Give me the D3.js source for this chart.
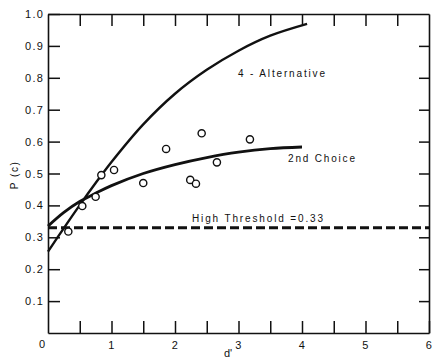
<!DOCTYPE html>
<html><head><meta charset="utf-8">
<script src="https://cdn.jsdelivr.net/npm/d3@7"></script>
<style>
body{margin:0;background:#fff}
svg text{font-family:"Liberation Sans",Arial,sans-serif;fill:#111}
</style>
</head><body>
<svg id="c" width="435" height="361"></svg>
<script>
// ---- data ----
const xTickValues = [0.5,1,1.5,2,2.5,3,3.5,4,4.5,5,5.5];
const xTickLabels = {1:"1",2:"2",3:"3",4:"4",5:"5",6:"6"};
const yTickValues = [0.1,0.2,0.3,0.4,0.5,0.6,0.7,0.8,0.9,1.0];
const yTickLabels = ["0.1","0.2","0.3","0.4","0.5","0.6","0.7","0.8","0.9","1.0"];
const alt4D = [0,0.25,0.5,0.75,1.0,1.5,2.0,2.5,3.0,3.5,4.08];
const alt4P = [0.255,0.329,0.401,0.470,0.536,0.654,0.750,0.825,0.885,0.932,0.969];
const choice2D = [0,0.25,0.5,0.75,1.0,1.5,2.0,2.5,3.0,3.5,4.0];
const choice2P = [0.335,0.378,0.412,0.438,0.462,0.50,0.528,0.55,0.567,0.578,0.583];
const obsD = [0.32,0.54,0.75,0.84,1.04,1.50,1.86,2.24,2.33,2.42,2.66,3.18];
const obsP = [0.318,0.398,0.427,0.495,0.511,0.470,0.577,0.480,0.468,0.626,0.535,0.607];
const thresholdP = 0.33;

// ---- layout ----
const svg = d3.select("#c");
const x = d3.scaleLinear().domain([0,6]).range([48,429]);
const y = d3.scaleLinear().domain([0,1]).range([333,14]);
const ink = "#111";

// axes
const gB = svg.append("g").attr("transform",`translate(0,${y(0)})`)
  .call(d3.axisBottom(x).tickValues(xTickValues.concat([6]))
    .tickSizeInner(-12).tickSizeOuter(0).tickPadding(8)
    .tickFormat(d=>xTickLabels[d]||""));
const gT = svg.append("g").attr("transform",`translate(0,${y(1)})`)
  .call(d3.axisTop(x).tickValues(xTickValues).tickSizeInner(-12).tickSizeOuter(0).tickFormat(""));
const gL = svg.append("g").attr("transform",`translate(${x(0)},0)`)
  .call(d3.axisLeft(y).tickValues(yTickValues).tickSizeInner(-12).tickSizeOuter(0).tickPadding(4)
    .tickFormat((d,i)=>yTickLabels[i]));
const gR = svg.append("g").attr("transform",`translate(${x(6)},0)`)
  .call(d3.axisRight(y).tickValues(yTickValues.slice(0,9)).tickSizeInner(-10).tickSizeOuter(0).tickFormat(""));
[gB,gT,gL,gR].forEach(g=>{
  g.select(".domain").attr("stroke",ink).attr("stroke-width",1.6);
  g.selectAll(".tick line").attr("stroke",ink).attr("stroke-width",1.5);
  g.selectAll("text").attr("font-size",11).attr("letter-spacing",1.2).attr("fill",ink)
   .style("font-family","Liberation Sans, Arial, sans-serif");
});
// "0" origin label
svg.append("text").attr("x",x(0)-6).attr("y",y(0)+15).attr("text-anchor","middle")
  .attr("font-size",11).text("0");

// threshold dashed line
svg.append("line").attr("x1",x(0)).attr("x2",x(6)).attr("y1",y(thresholdP)).attr("y2",y(thresholdP))
  .attr("stroke",ink).attr("stroke-width",2.8).attr("stroke-dasharray","9,4");

// curves
const line = d3.line().x(d=>x(d[0])).y(d=>y(d[1])).curve(d3.curveCatmullRom.alpha(0.5));
svg.append("path").datum(alt4D.map((d,i)=>[d,alt4P[i]])).attr("d",line)
  .attr("fill","none").attr("stroke",ink).attr("stroke-width",2.4);
svg.append("path").datum(choice2D.map((d,i)=>[d,choice2P[i]])).attr("d",line)
  .attr("fill","none").attr("stroke",ink).attr("stroke-width",2.8);

// observations
svg.selectAll("circle.obs").data(obsD.map((d,i)=>[d,obsP[i]])).enter().append("circle")
  .attr("class","obs").attr("cx",d=>x(d[0])).attr("cy",d=>y(d[1])).attr("r",3.6)
  .attr("fill","#fff").attr("stroke",ink).attr("stroke-width",1.4);

// annotations
function label(t,x0,yc,w){
  svg.append("text").attr("x",x0).attr("y",yc).attr("dy","0.35em").attr("font-size",10)
    .attr("textLength",w).attr("lengthAdjust","spacing").text(t);
}
label("4 - Alternative",238,73,87);
label("2nd Choice",288,158,67);
label("High Threshold =0.33",192,218,131);

// axis titles
svg.append("text").attr("x",228).attr("y",357).attr("text-anchor","middle").attr("font-size",11).text("d'");
svg.append("text").attr("transform","translate(18,175) rotate(-90)").attr("text-anchor","middle")
  .attr("font-size",10).attr("letter-spacing",1.5).text("P (c)");
</script>
</body></html>
